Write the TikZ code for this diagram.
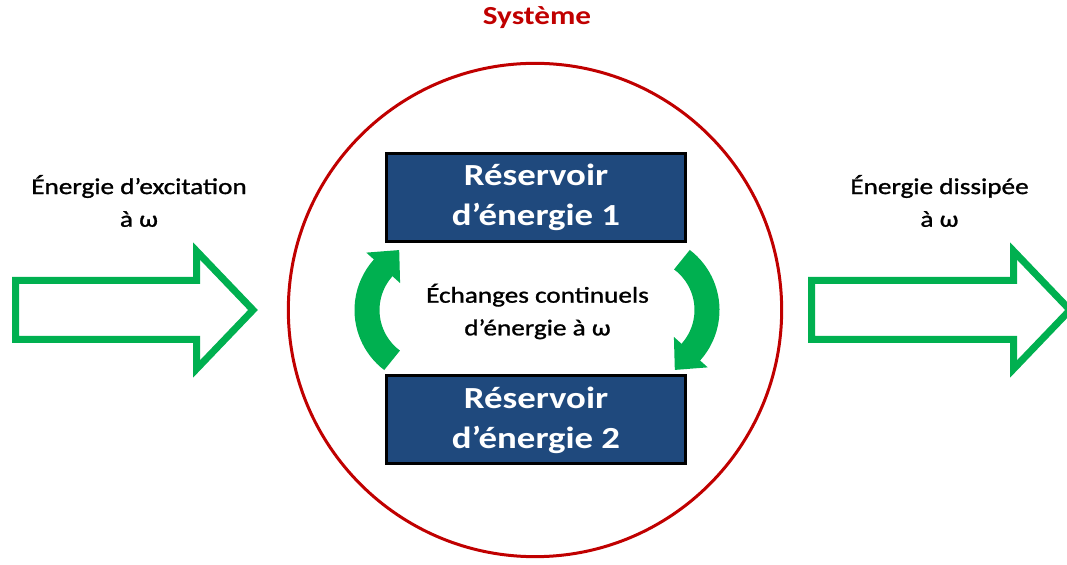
\documentclass[tikz,border=0pt]{standalone}
\usepackage{fontspec}
\setmainfont{Carlito}[FakeStretch=1.2]
\newfontfamily\legendfont{Carlito}[FakeStretch=1.2, FakeBold=1.2]
\usetikzlibrary{arrows.meta}
\definecolor{sysred}{RGB}{192,0,0}
\definecolor{resblue}{RGB}{31,73,125}
\definecolor{flowgreen}{RGB}{0,176,80}
\begin{document}
\begin{tikzpicture}[x=0.75pt,y=0.75pt,
	reservoir/.style = {shape=rectangle, draw=black, line width=2.25pt, fill=resblue, text=white, align=center, minimum width=224pt, minimum height=66pt, font=\fontsize{23}{30}\selectfont\bfseries},
	legend/.style = {align=center, font=\fontsize{17}{24.5}\selectfont\legendfont},
	flow/.style = {draw=flowgreen, line width=5.25pt, fill=white},
	exchange/.style = {draw=flowgreen, line width=18.75pt, -{Triangle[width=33pt,length=18pt]}}]
\useasboundingbox (0,0) rectangle (1067,564);
\node[shape=circle, draw=sysred, line width=2.25pt, minimum size=370pt, inner sep=0pt] (sys) at (535,254) {};
\node[anchor=base, text=sysred, font=\fontsize{19.5}{22}\selectfont\bfseries] (title) at (537,539) {Système};
\node[reservoir] (res1) at (536,366.5) {Réservoir\\d’énergie 1};
\node[reservoir] (res2) at (536,144) {Réservoir\\d’énergie 2};
\node[legend] (exch) at (537.5,252.5) {Échanges continuels\\d’énergie à ω};
\node[legend] (excit) at (139,363) {Énergie d’excitation\\à ω};
\node[legend] (dissip) at (939.5,363) {Énergie dissipée\\à ω};
\draw[flow] (15.5,283.5) -- (196.5,283.5) -- (196.5,313) -- (253,254)
	-- (196.5,195) -- (196.5,224.5) -- (15.5,224.5) -- cycle;
\draw[flow] (811.5,283.5) -- (1013.5,283.5) -- (1013.5,313) -- (1070,254)
	-- (1013.5,195) -- (1013.5,224.5) -- (811.5,224.5) -- cycle;
\draw[exchange] ([shift={(233:63)}]430,254) arc[start angle=233, end angle=138, radius=63] -- ++(48:24);
\draw[exchange] ([shift={(53:63)}]644,254) arc[start angle=53, end angle=-42, radius=63] -- ++(-132:24);
\end{tikzpicture}
\end{document}
